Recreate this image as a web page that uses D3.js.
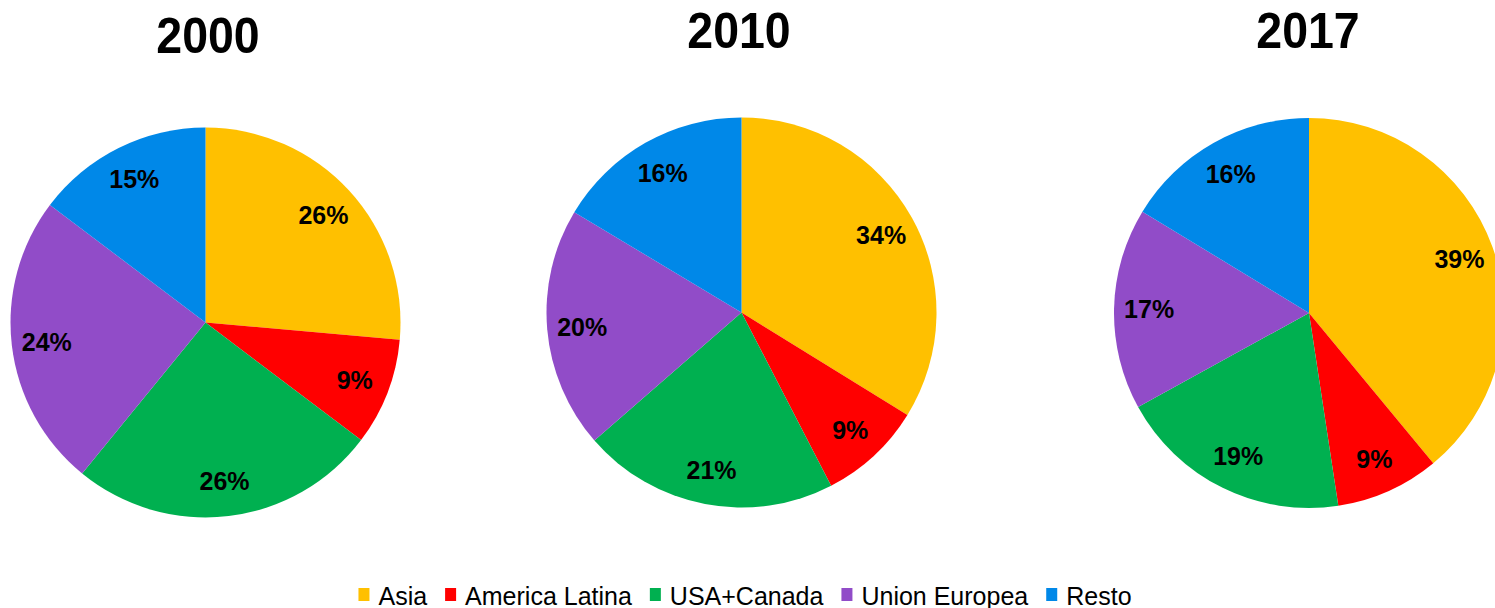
<!DOCTYPE html>
<html lang="es">
<head>
<meta charset="UTF-8">
<title>Pies 2000 2010 2017</title>
<script src="https://d3js.org/d3.v7.min.js"></script>
<style>
  html, body { margin: 0; padding: 0; background: #fff; }
  svg { display: block; font-family: Arial, "Liberation Sans", sans-serif; }
</style>
</head>
<body>
<div id="chart"></div>
<script>
// values (percent of total)
const categories = ["Asia", "America Latina", "USA+Canada", "Union Europea", "Resto"];
const years = ["2000", "2010", "2017"];
const share2000 = [26.4, 8.9, 25.6, 24.4, 14.7];
const share2010 = [33.8, 8.6, 21.2, 20.0, 16.4];
const share2017 = [39.0, 8.6, 19.4, 16.7, 16.3];
const sliceColors = ["#FFC000", "#FF0000", "#00B050", "#914CC8", "#0088E8"];

const series = [share2000, share2010, share2017];

const W = 1495, H = 608;
const R = 195;
// panel layout (each pie sits in its own plot area)
const panels = [
  { cx: 205.5, cy: 322.5, titleX: 208, titleY: 53 },
  { cx: 741.5, cy: 312.5, titleX: 739, titleY: 48 },
  { cx: 1309,  cy: 313,   titleX: 1308, titleY: 48 }
];

const svg = d3.select("#chart").append("svg")
  .attr("width", W)
  .attr("height", H);

const color = d3.scaleOrdinal().domain(categories).range(sliceColors);

const pie = d3.pie().sort(null).value(d => d.value);
const arc = d3.arc().innerRadius(0).outerRadius(R);
const labelArc = d3.arc().innerRadius(R * 0.82).outerRadius(R * 0.82);

series.forEach(function(vals, i) {
  const p = panels[i];
  const rows = categories.map((c, j) => ({ cat: c, value: vals[j] }));
  const total = d3.sum(vals);

  svg.append("text")
    .attr("transform", "translate(" + p.titleX + "," + p.titleY + ") scale(0.93,1)")
    .attr("text-anchor", "middle")
    .style("font-size", "50px")
    .style("font-weight", "bold")
    .text(years[i]);

  const g = svg.append("g")
    .attr("transform", "translate(" + p.cx + "," + p.cy + ")");

  const arcs = pie(rows);

  g.selectAll("path")
    .data(arcs)
    .enter()
    .append("path")
    .attr("d", arc)
    .attr("fill", d => color(d.data.cat));

  g.selectAll("text")
    .data(arcs)
    .enter()
    .append("text")
    .attr("transform", d => "translate(" + labelArc.centroid(d) + ")")
    .attr("text-anchor", "middle")
    .attr("dy", "0.36em")
    .style("font-size", "25px")
    .style("font-weight", "bold")
    .text(d => Math.round(d.data.value / total * 100) + "%");
});

// legend
const legend = svg.append("g");
const sq = 11, gapIn = 9, gapOut = 18;
let xPos = 0;
categories.forEach(function(c) {
  const item = legend.append("g").attr("transform", "translate(" + xPos + ",0)");
  item.append("rect")
    .attr("x", 0).attr("y", -16.5)
    .attr("width", sq).attr("height", 13)
    .attr("fill", color(c));
  const t = item.append("text")
    .attr("x", sq + gapIn)
    .attr("y", 0)
    .style("font-size", "25px")
    .text(c);
  xPos += sq + gapIn + t.node().getComputedTextLength() + gapOut;
});
const legendW = xPos - gapOut;
legend.attr("transform", "translate(" + (745 - legendW / 2) + ",604.5)");
</script>
</body>
</html>
